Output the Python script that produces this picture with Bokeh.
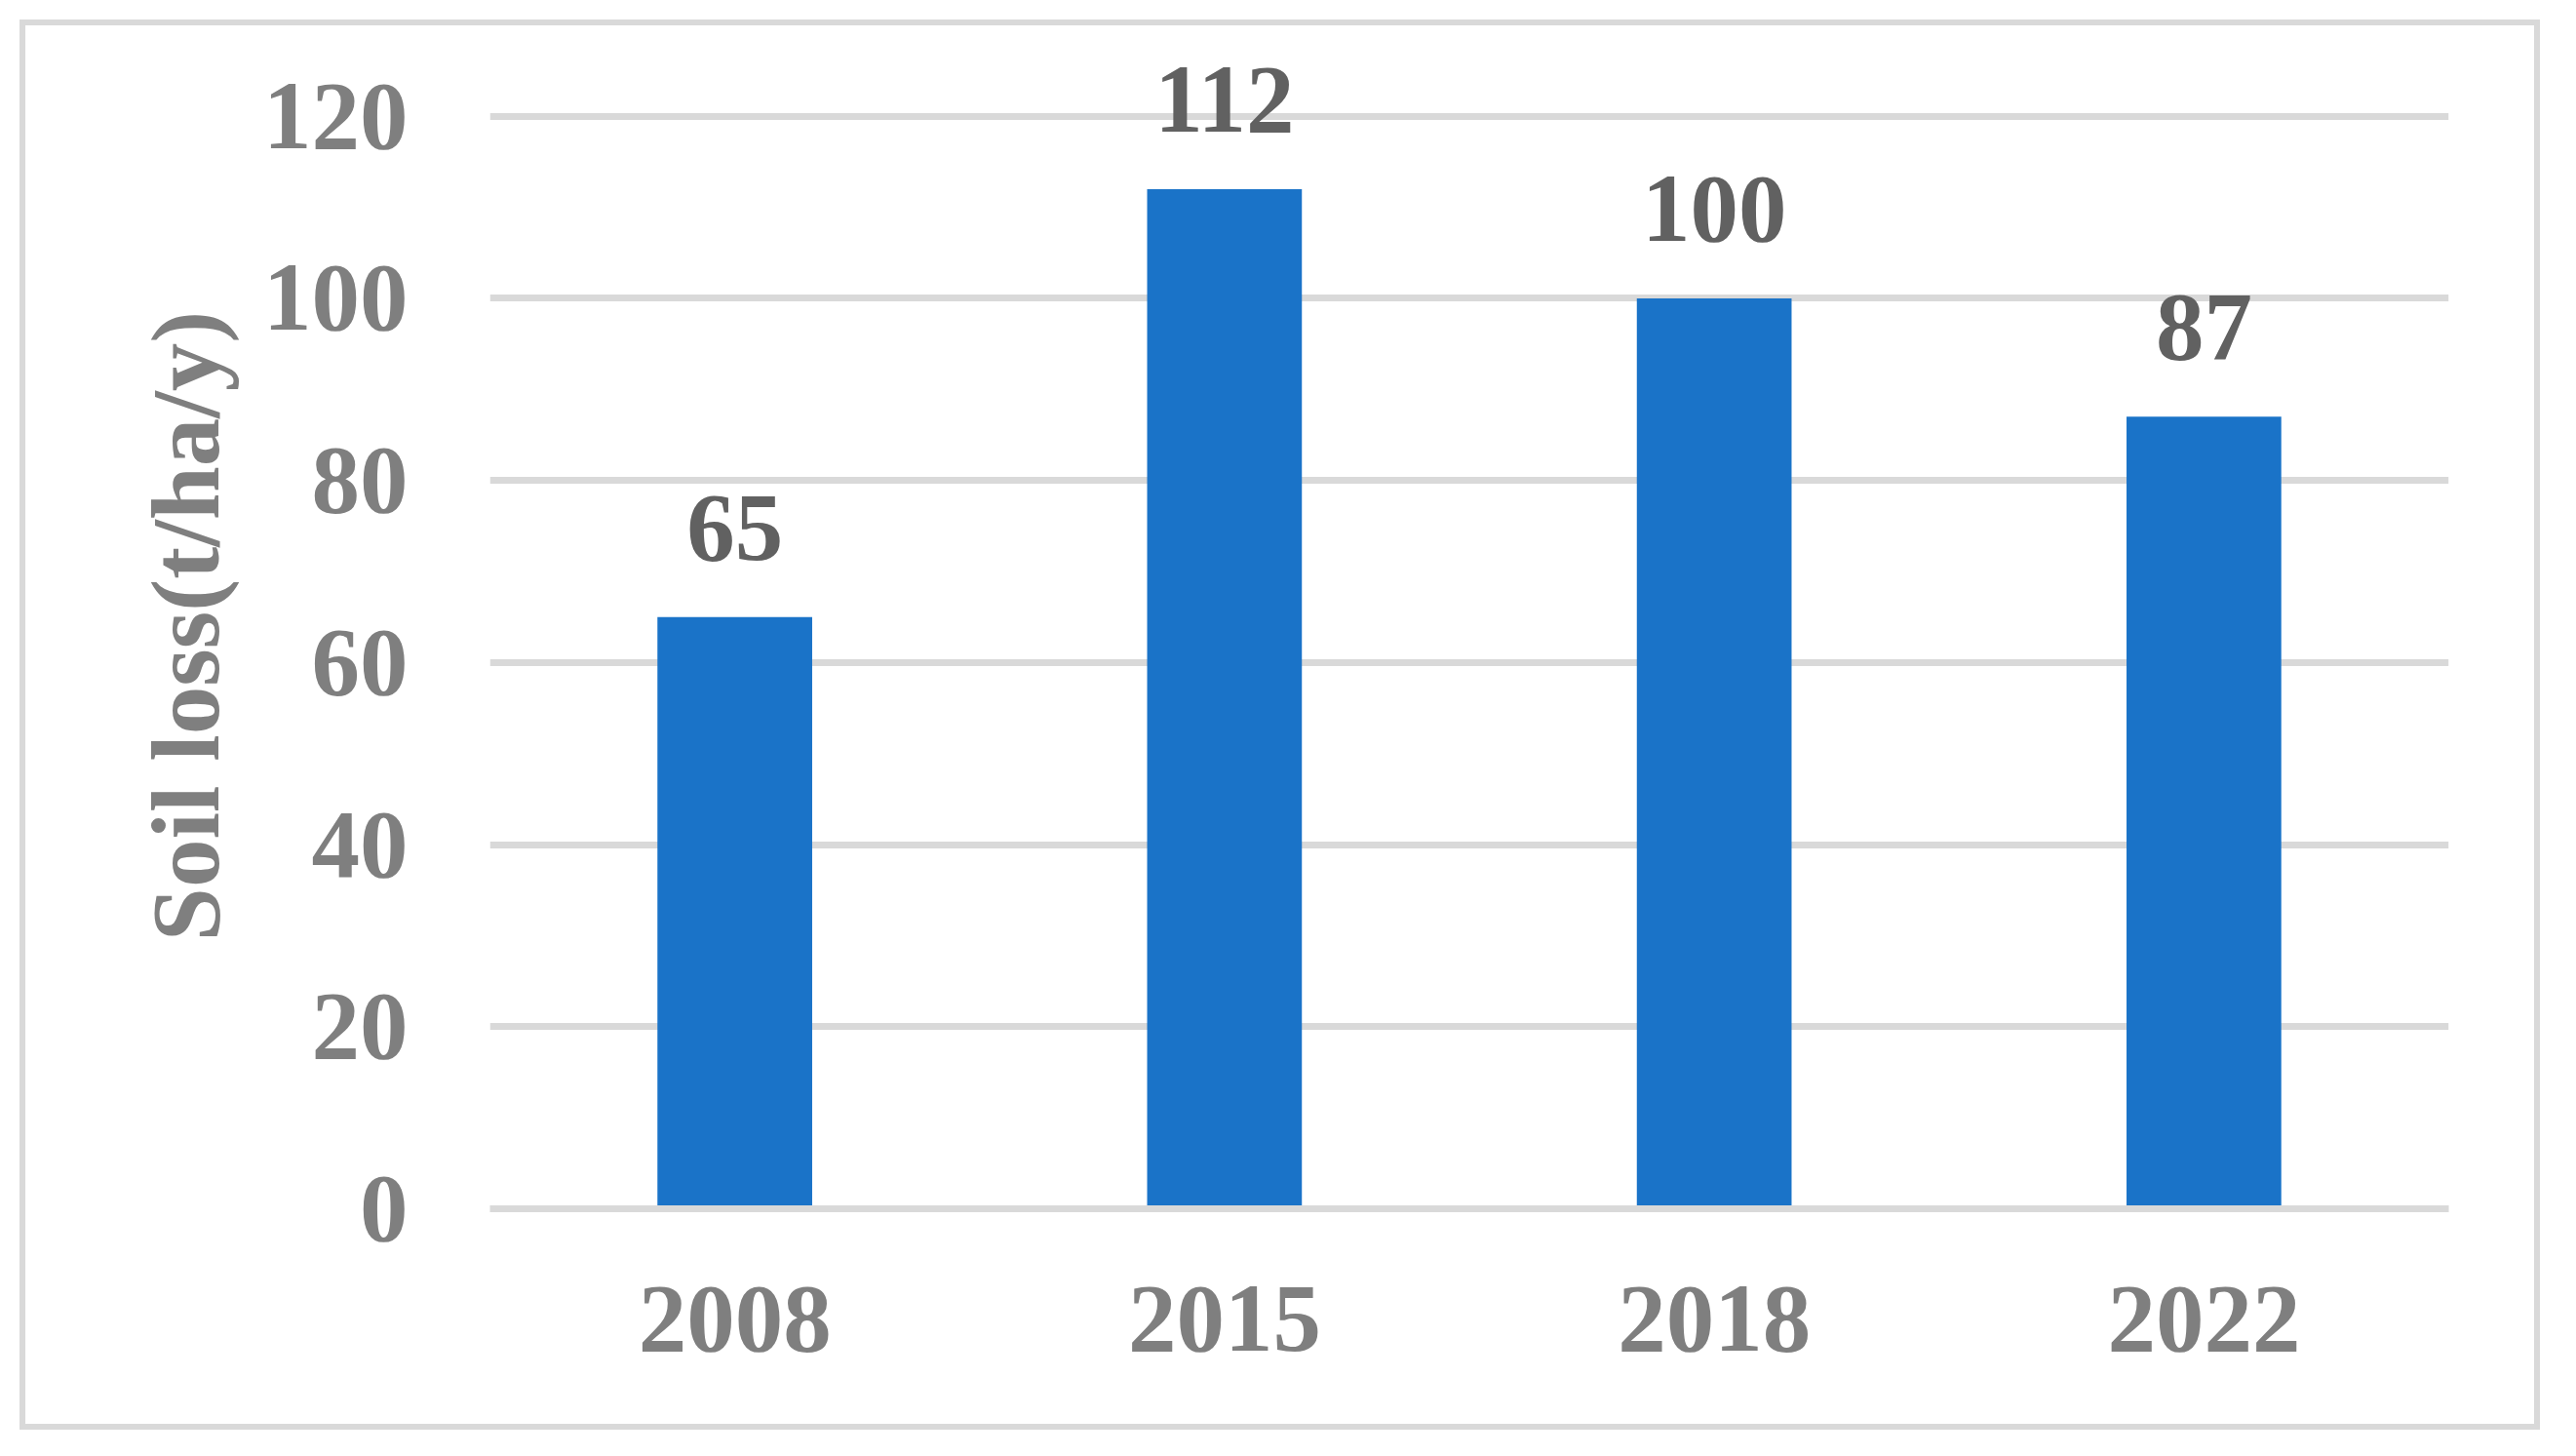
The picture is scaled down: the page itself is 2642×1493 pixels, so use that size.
from bokeh.plotting import figure
from bokeh.models import ColumnDataSource, LabelSet, Range1d, FactorRange, FixedTicker
from bokeh.core.properties import value
from bokeh.embed import file_html
from bokeh.resources import INLINE

years = ["2008", "2015", "2018", "2022"]
soil_loss = [65, 112, 100, 87]
y_ticks = [0, 20, 40, 60, 80, 100, 120]
y_title = "Soil loss(t/ha/y)"

# outer bordered box: page x 20..2605, y 20..1466 ; canvas starts at 26,26
W, H = 2585, 1446
FONT = "Liberation Serif"
FS = "99px"   # note: "bold 100px" breaks the SVG font parser
GRID = "#D9D9D9"
TICK_COLOR = "#7F7F7F"
LABEL_COLOR = "#616161"
BAR_COLOR = "#1A73C8"

src = ColumnDataSource(dict(year=years, val=soil_loss, lbl=[str(v) for v in soil_loss]))

p = figure(
    x_range=FactorRange(*years),
    y_range=Range1d(0, 128),
    width=W, height=H,
    output_backend="svg",
    toolbar_location=None,
    min_border_left=476, min_border_right=100,
    min_border_top=18, min_border_bottom=233,
)
p.outline_line_color = None
p.background_fill_color = "white"
p.border_fill_color = "white"
p.styles = {"border": "6px solid #D9D9D9", "margin": "20px 0 0 20px"}

p.vbar(x="year", top="val", bottom=0, width=0.316, source=src,
       fill_color=BAR_COLOR, line_color=None)

labels = LabelSet(x="year", y="val", text="lbl", source=src,
                  y_offset=59, text_align="center", text_baseline="alphabetic",
                  text_font=value(FONT), text_font_style="bold", text_font_size=value(FS),
                  text_color=LABEL_COLOR)
p.add_layout(labels)

# grid
p.xgrid.grid_line_color = None
p.ygrid.ticker = FixedTicker(ticks=y_ticks)
p.ygrid.grid_line_color = GRID
p.ygrid.grid_line_width = 7

# y axis
yax = p.yaxis[0]
yax.ticker = FixedTicker(ticks=y_ticks)
yax.axis_line_color = None
yax.major_tick_line_color = None
yax.minor_tick_line_color = None
yax.major_tick_out = 0
yax.major_tick_in = 0
yax.major_label_standoff = 84
yax.major_label_text_font = FONT
yax.major_label_text_font_style = "bold"
yax.major_label_text_font_size = FS
yax.major_label_text_color = TICK_COLOR
yax.axis_label = y_title
yax.axis_label_text_font = FONT
yax.axis_label_text_font_style = "bold"
yax.axis_label_text_font_size = FS
yax.axis_label_text_color = TICK_COLOR
yax.axis_label_standoff = 22

# x axis
xax = p.xaxis[0]
xax.axis_line_color = GRID
xax.axis_line_width = 7
xax.major_tick_line_color = None
xax.major_tick_out = 0
xax.major_tick_in = 0
xax.major_label_standoff = 80
xax.major_label_text_font = FONT
xax.major_label_text_font_style = "bold"
xax.major_label_text_font_size = FS
xax.major_label_text_color = TICK_COLOR

open("out.html", "w").write(file_html(p, INLINE))
